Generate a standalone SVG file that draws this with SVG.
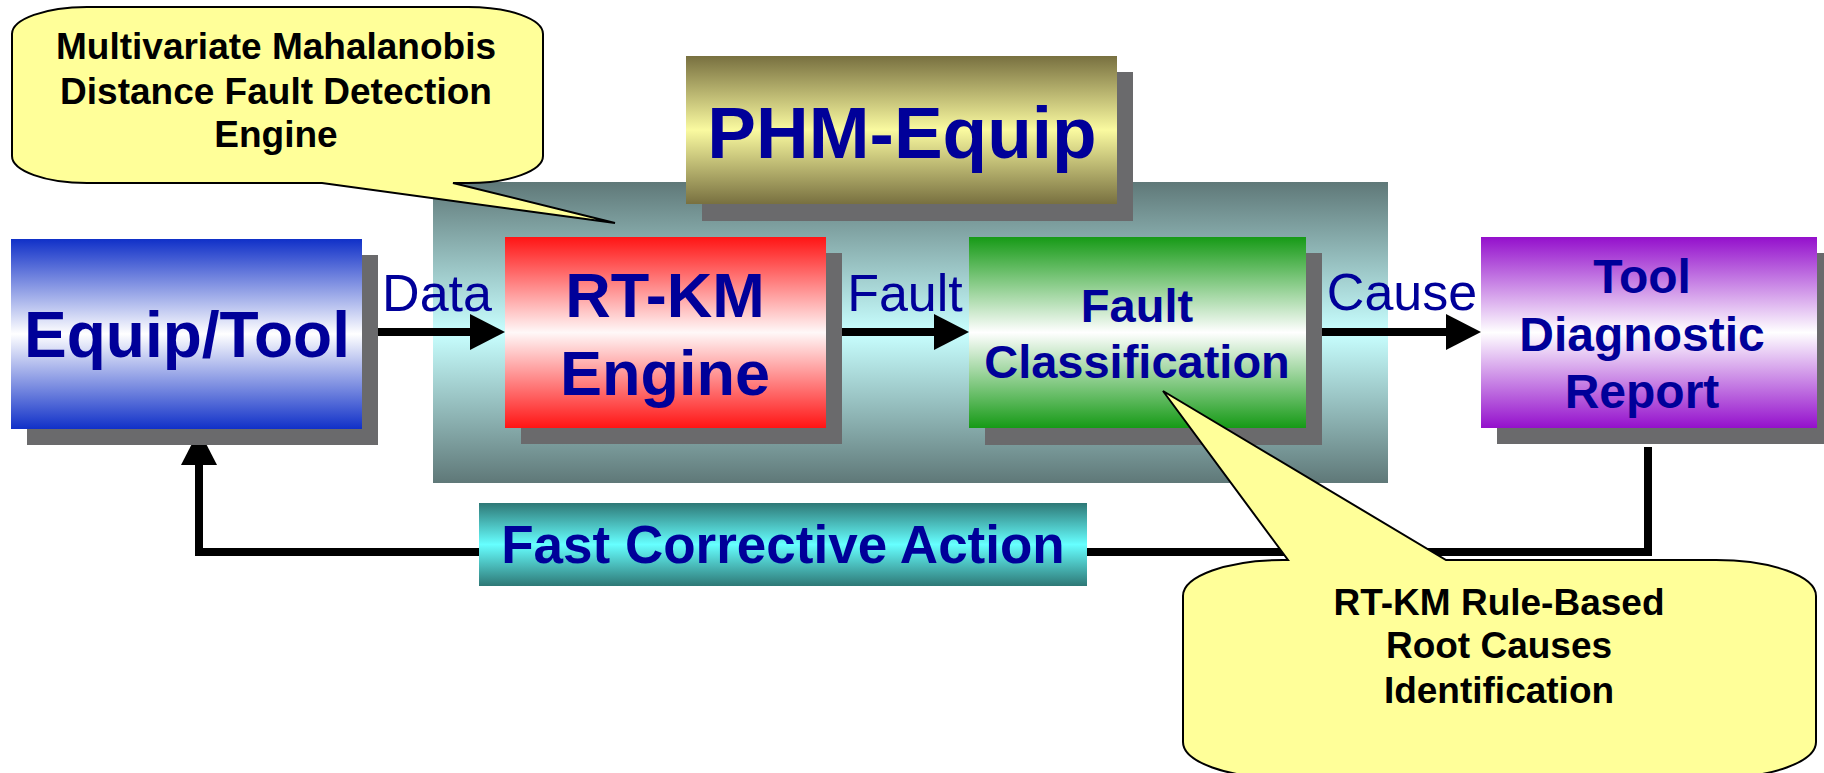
<svg xmlns="http://www.w3.org/2000/svg" width="1824" height="773" viewBox="0 0 1824 773">
<style>
.shadow{fill:#6a6a6c}
.lbl{font-family:"Liberation Sans",Arial,sans-serif;fill:#000099;text-anchor:middle}
.b{font-weight:bold}
.call{fill:#ffff99;stroke:#000;stroke-width:2;stroke-linejoin:miter}
.ctext{font-family:"Liberation Sans",Arial,sans-serif;font-weight:bold;font-size:37px;fill:#000;text-anchor:middle}
.conn{fill:none;stroke:#000;stroke-width:8;stroke-linejoin:miter}
</style>
<defs>
<linearGradient id="gCont" x1="0" y1="0" x2="0" y2="1">
<stop offset="0" stop-color="#5f7878"/><stop offset="0.5" stop-color="#c8ffff"/><stop offset="1" stop-color="#5f7878"/>
</linearGradient>
<linearGradient id="gPhm" x1="0" y1="0" x2="0" y2="1">
<stop offset="0" stop-color="#787040"/><stop offset="0.5" stop-color="#fafaa0"/><stop offset="1" stop-color="#787040"/>
</linearGradient>
<linearGradient id="gBlue" x1="0" y1="0" x2="0" y2="1">
<stop offset="0" stop-color="#1030c8"/><stop offset="0.5" stop-color="#ffffff"/><stop offset="1" stop-color="#1030c8"/>
</linearGradient>
<linearGradient id="gRed" x1="0" y1="0" x2="0" y2="1">
<stop offset="0" stop-color="#ff1414"/><stop offset="0.5" stop-color="#fff8f8"/><stop offset="1" stop-color="#ff1414"/>
</linearGradient>
<linearGradient id="gGreen" x1="0" y1="0" x2="0" y2="1">
<stop offset="0" stop-color="#169a16"/><stop offset="0.5" stop-color="#ffffff"/><stop offset="1" stop-color="#169a16"/>
</linearGradient>
<linearGradient id="gPurple" x1="0" y1="0" x2="0" y2="1">
<stop offset="0" stop-color="#9410cc"/><stop offset="0.5" stop-color="#ffffff"/><stop offset="1" stop-color="#9410cc"/>
</linearGradient>
<linearGradient id="gTeal" x1="0" y1="0" x2="0" y2="1">
<stop offset="0" stop-color="#2e7876"/><stop offset="0.5" stop-color="#66ffff"/><stop offset="1" stop-color="#2e7876"/>
</linearGradient>
<marker id="arr" markerUnits="userSpaceOnUse" markerWidth="36" markerHeight="36" refX="1" refY="18" orient="auto">
<path d="M0,0 L35,18 L0,36 Z" fill="#000"/>
</marker>
</defs>
<rect width="1824" height="773" fill="#fff"/>

<g id="phm-container">
<rect x="433" y="182" width="955" height="301" fill="url(#gCont)"/>
</g>

<g id="phm-title">
<rect class="shadow" x="702" y="72" width="431" height="149"/>
<rect x="686" y="56" width="431" height="148" fill="url(#gPhm)"/>
<text class="lbl b" x="902" y="158" font-size="73">PHM-Equip</text>
</g>

<g id="connectors">
<path class="conn" d="M362,332 H471" marker-end="url(#arr)"/>
<path class="conn" d="M826,332 H935" marker-end="url(#arr)"/>
<path class="conn" d="M1306,332 H1447" marker-end="url(#arr)"/>
<path class="conn" d="M1648,447 V552 H199 V464" marker-end="url(#arr)"/>
<text class="lbl" x="437" y="311" font-size="52">Data</text>
<text class="lbl" x="905" y="311" font-size="52">Fault</text>
<text class="lbl" x="1402" y="310" font-size="52">Cause</text>
</g>

<g id="equip-tool">
<rect class="shadow" x="27" y="255" width="351" height="190"/>
<rect x="11" y="239" width="351" height="190" fill="url(#gBlue)"/>
<text class="lbl b" x="187" y="357" font-size="64">Equip/Tool</text>
</g>

<g id="rtkm-engine">
<rect class="shadow" x="521" y="253" width="321" height="191"/>
<rect x="505" y="237" width="321" height="191" fill="url(#gRed)"/>
<text class="lbl b" x="665" y="317" font-size="63">RT-KM</text>
<text class="lbl b" x="665" y="395" font-size="63">Engine</text>
</g>

<g id="fault-classification">
<rect class="shadow" x="985" y="253" width="337" height="192"/>
<rect x="969" y="237" width="337" height="191" fill="url(#gGreen)"/>
<text class="lbl b" x="1137" y="322" font-size="47">Fault</text>
<text class="lbl b" x="1137" y="378" font-size="47">Classification</text>
</g>

<g id="tool-diagnostic-report">
<rect class="shadow" x="1497" y="253" width="340" height="191"/>
<rect x="1481" y="237" width="336" height="191" fill="url(#gPurple)"/>
<text class="lbl b" x="1642" y="293" font-size="48">Tool</text>
<text class="lbl b" x="1642" y="351" font-size="48">Diagnostic</text>
<text class="lbl b" x="1642" y="408" font-size="48">Report</text>
</g>

<g id="fast-corrective-action">
<rect x="479" y="503" width="608" height="83" fill="url(#gTeal)"/>
<text class="lbl b" x="783" y="563" font-size="53">Fast Corrective Action</text>
</g>

<g id="callout-detection">
<path class="call" d="M87,7 H468 A75,27 0 0 1 543,34 V156 A75,27 0 0 1 468,183 H453 L615,223 L322,183 H87 A75,27 0 0 1 12,156 V34 A75,27 0 0 1 87,7 Z"/>
<text class="ctext" x="276" y="59">Multivariate Mahalanobis</text>
<text class="ctext" x="276" y="104">Distance Fault Detection</text>
<text class="ctext" x="276" y="147">Engine</text>
</g>

<g id="callout-rootcause">
<path class="call" d="M1183,596 A100,36 0 0 1 1283,560 H1288 L1163,391 L1446,560 H1716 A100,36 0 0 1 1816,596 V742 A100,36 0 0 1 1716,778 H1283 A100,36 0 0 1 1183,742 Z"/>
<text class="ctext" x="1499" y="615">RT-KM Rule-Based</text>
<text class="ctext" x="1499" y="658">Root Causes</text>
<text class="ctext" x="1499" y="703">Identification</text>
</g>
</svg>
